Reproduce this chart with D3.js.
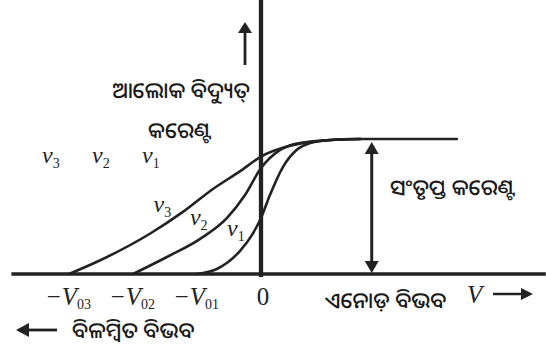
<!DOCTYPE html>
<html>
<head>
<meta charset="utf-8">
<script src="https://cdn.jsdelivr.net/npm/d3@7"></script>
<style>
  html, body { margin: 0; padding: 0; background: #fff; }
  svg { display: block; }
  .odia { font-family: "Noto Sans Oriya", "Noto Sans Odia", "Lohit Odia", "Noto Sans", sans-serif; fill: #1a1a1a; font-weight: 500; }
  .serif { font-family: "Liberation Serif", "Times New Roman", serif; fill: #222; }
</style>
</head>
<body>
<svg id="chart" width="546" height="347"></svg>
<script>
// Photo-current vs anode potential for three light frequencies (same intensity)
const series = ["ν3", "ν2", "ν1"];
const seriesSub = ["3", "2", "1"];

// anode potential (arbitrary units, stopping potentials at -3, -2, -1)
const voltsNu3 = [-3, -2.52, -1.73, -1.22, -0.75, -0.33, 0, 0.45, 0.92, 1.39, 3.06];
const currentNu3 = [0, 0.10, 0.30, 0.46, 0.63, 0.76, 0.87, 0.95, 0.985, 1.0, 1.0];

const voltsNu2 = [-2, -1.47, -0.95, -0.53, -0.25, 0, 0.30, 0.61, 1.08, 1.55];
const currentNu2 = [0, 0.126, 0.26, 0.415, 0.585, 0.785, 0.92, 0.97, 0.993, 1.0];

const voltsNu1 = [-1, -0.69, -0.33, -0.14, 0, 0.14, 0.34, 0.56, 0.77, 1.08, 1.55];
const currentNu1 = [0, 0.037, 0.17, 0.29, 0.415, 0.585, 0.79, 0.92, 0.97, 0.993, 1.0];

// stopping-potential tick labels on the voltage axis
const tickValues = [-3, -2, -1, 0];
const tickMain = ["−V", "−V", "−V", "0"];
const tickSub = ["03", "02", "01", ""];

const saturationCurrent = 1.0;

// Odia captions
const yTitle1 = "ଆଲୋକ ବିଦ୍ୟୁତ୍";
const yTitle2 = "କରେଣ୍ଟ";
const satLabel = "ସଂତୃପ୍ତ କରେଣ୍ଟ";
const xTitle = "ଏନୋଡ଼ ବିଭବ";
const retardLabel = "ବିଳମ୍ବିତ ବିଭବ";

const svg = d3.select("#chart");
const ink = "#222";

const x = d3.scaleLinear().domain([-3.9, 4.45]).range([11.4, 545.8]);
const y = d3.scaleLinear().domain([0, 2.03]).range([274, 0]);

// axes
svg.append("line")
  .attr("x1", x(-3.9)).attr("x2", x(4.45))
  .attr("y1", y(0)).attr("y2", y(0))
  .attr("stroke", ink).attr("stroke-width", 3.5);
svg.append("line")
  .attr("x1", x(0)).attr("x2", x(0))
  .attr("y1", y(2.03)).attr("y2", y(0) + 3)
  .attr("stroke", ink).attr("stroke-width", 4.3);

// curves
const curveData = [
  d3.zip(voltsNu3, currentNu3),
  d3.zip(voltsNu2, currentNu2),
  d3.zip(voltsNu1, currentNu1)
];
const line = d3.line()
  .x(d => x(d[0]))
  .y(d => y(d[1]))
  .curve(d3.curveMonotoneX);

svg.append("g").selectAll("path")
  .data(curveData)
  .join("path")
  .attr("d", line)
  .attr("fill", "none")
  .attr("stroke", ink)
  .attr("stroke-width", 2.6)
  .attr("stroke-linecap", "round");

// tick labels
const ticks = svg.append("g").attr("class", "serif");
tickValues.forEach((v, i) => {
  const t = ticks.append("text")
    .attr("x", x(v) + (tickSub[i] ? -1 : 2))
    .attr("y", 305)
    .attr("text-anchor", "middle")
    .attr("font-size", 25);
  t.append("tspan").attr("font-style", tickMain[i] === "0" ? "normal" : "italic").text(tickMain[i]);
  if (tickSub[i]) {
    t.append("tspan").attr("font-size", 14).attr("dy", 4).text(tickSub[i]);
  }
});

// arrowhead polygon with its tip at (tipX, tipY)
function arrowHead(tipX, tipY, dir, len, half) {
  let pts;
  if (dir === "up") pts = [[tipX, tipY], [tipX - half, tipY + len], [tipX + half, tipY + len]];
  if (dir === "down") pts = [[tipX, tipY], [tipX - half, tipY - len], [tipX + half, tipY - len]];
  if (dir === "left") pts = [[tipX, tipY], [tipX + len, tipY - half], [tipX + len, tipY + half]];
  if (dir === "right") pts = [[tipX, tipY], [tipX - len, tipY - half], [tipX - len, tipY + half]];
  svg.append("polygon").attr("points", pts.map(p => p.join(",")).join(" ")).attr("fill", ink);
}

// current arrow beside the vertical axis
svg.append("line").attr("x1", 245).attr("x2", 245).attr("y1", 65).attr("y2", 32)
  .attr("stroke", ink).attr("stroke-width", 2.8);
arrowHead(245, 22, "up", 11, 7);

// saturation current double arrow
const satX = x(1.73);
svg.append("line").attr("x1", satX).attr("x2", satX)
  .attr("y1", y(saturationCurrent) + 12).attr("y2", y(0) - 12)
  .attr("stroke", ink).attr("stroke-width", 3);
arrowHead(satX, y(saturationCurrent) + 3, "up", 12, 7);
arrowHead(satX, y(0) - 1, "down", 12, 7);

// anode potential arrow
svg.append("line").attr("x1", 493).attr("x2", 522).attr("y1", 294).attr("y2", 294)
  .attr("stroke", ink).attr("stroke-width", 2.5);
arrowHead(533, 294, "right", 12, 6);

// retarding potential arrow
svg.append("line").attr("x1", 57).attr("x2", 28).attr("y1", 330).attr("y2", 330)
  .attr("stroke", ink).attr("stroke-width", 2.8);
arrowHead(16, 330, "left", 13, 7);

// Odia captions
svg.append("text").attr("class", "odia").attr("x", 250).attr("y", 98)
  .attr("text-anchor", "end").attr("font-size", 22).text(yTitle1);
svg.append("text").attr("class", "odia").attr("x", 180).attr("y", 138)
  .attr("text-anchor", "middle").attr("font-size", 22).text(yTitle2);
svg.append("text").attr("class", "odia").attr("x", 390).attr("y", 195)
  .attr("font-size", 22).text(satLabel);
svg.append("text").attr("class", "odia").attr("x", 325).attr("y", 308)
  .attr("font-size", 22).text(xTitle);
svg.append("text").attr("class", "odia").attr("x", 72).attr("y", 338)
  .attr("font-size", 22).text(retardLabel);

// V symbol on the anode axis
svg.append("text").attr("class", "serif").attr("x", 467).attr("y", 303)
  .attr("font-size", 25).attr("font-style", "italic").text("V");

// frequency labels on the curves
const curveLabelPos = [[-1.68, 0.46], [-1.11, 0.36], [-0.53, 0.28]];
series.forEach((s, i) => {
  const t = svg.append("text").attr("class", "serif")
    .attr("x", x(curveLabelPos[i][0])).attr("y", y(curveLabelPos[i][1]))
    .attr("font-size", 24).attr("font-style", "italic");
  t.append("tspan").text("ν");
  t.append("tspan").attr("font-size", 14).attr("font-style", "normal").attr("dy", 5).text(seriesSub[i]);
});

// frequency row above the curves
const orderX = [42, 92, 142];
series.forEach((s, i) => {
  const t = svg.append("text").attr("class", "serif")
    .attr("x", orderX[i]).attr("y", 163)
    .attr("font-size", 24).attr("font-style", "italic");
  t.append("tspan").text("ν");
  t.append("tspan").attr("font-size", 14).attr("font-style", "normal").attr("dy", 5).text(seriesSub[i]);
});
</script>
</body>
</html>
